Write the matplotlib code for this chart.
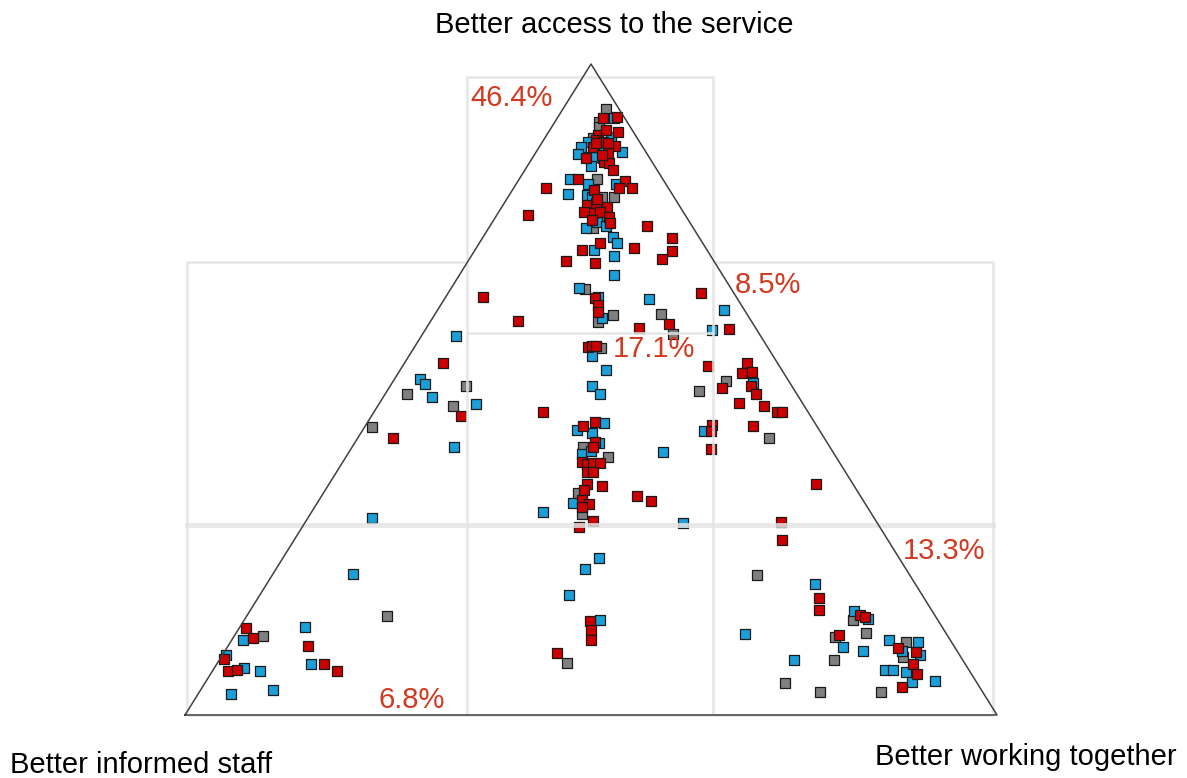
import matplotlib.pyplot as plt
import numpy as np

plt.rcParams['font.family'] = ['Liberation Sans', 'DejaVu Sans']

# Each respondent splits 100% between the three corners.
# access = "Better access to the service", together = "Better working together",
# staff ("Better informed staff") is whatever is left.
red_access = [91.7, 91.9, 89.6, 89.1, 89.9, 88.3, 88.0, 87.4, 87.2, 85.6, 85.6, 84.9, 84.8, 83.7, 86.3, 86.0, 87.9, 87.9,
              82.3, 82.0, 81.0, 81.0, 81.0, 80.6, 78.3, 78.6, 78.0, 77.1, 77.3, 76.5, 77.3, 75.6, 76.0, 79.3, 76.8,
              75.1, 72.5, 71.4, 71.7, 73.3, 71.3, 70.0, 69.4, 69.7,
              64.2, 64.1, 63.0, 61.9, 60.5, 60.1, 59.4, 64.8, 59.3,
              56.5, 56.7, 56.7, 53.6, 54.1, 52.5, 52.7, 50.5, 50.2, 49.3, 47.9, 47.5, 46.5, 46.5, 44.5, 43.6, 44.4,
              40.9, 35.5, 29.6, 26.9, 46.5, 45.0, 44.4, 41.9, 41.2, 38.9, 38.6, 38.7, 38.7, 37.3, 37.3, 35.5, 35.2,
              34.6, 33.0, 32.4, 32.0, 33.6, 32.9, 29.8, 28.9, 14.4, 13.1, 11.5, 9.5,
              54.1, 45.9, 42.5, 13.4, 11.8, 10.6, 8.6, 6.8, 6.9, 7.8, 6.8,
              18.0, 16.1, 15.4, 15.1, 12.3, 10.3, 9.7, 7.8, 6.3, 4.3]
red_together = [5.6, 7.2, 8.5, 6.3, 6.9, 6.5, 7.5, 9.3, 6.6, 8.7, 6.6, 9.1, 9.8, 10.8, 9.0, 8.4, 6.7, 8.1,
                7.3, 13.2, 12.9, 14.5, 4.0, 10.1, 10.3, 11.3, 13.0, 11.7, 12.5, 14.0, 10.5, 14.5, 12.1, 11.1, 3.8,
                19.3, 14.9, 13.2, 19.4, 23.3, 24.3, 23.7, 15.8, 12.1,
                4.6, 18.4, 19.4, 19.9, 10.8, 29.5, 26.2, 31.1, 37.4,
                21.4, 21.8, 22.3, 37.6, 42.2, 42.4, 43.5, 44.4, 41.0, 45.7, 44.3, 47.5, 49.7, 50.3, 42.7, 43.0, 47.8,
                44.3, 60.0, 58.6, 60.1, 20.9, 28.0, 26.8, 29.6, 29.6, 29.5, 30.2, 30.9, 31.8, 30.9, 31.6, 31.7, 33.8,
                31.8, 32.4, 33.6, 32.9, 38.9, 41.0, 35.3, 34.1, 42.7, 43.4, 44.2, 41.1,
                4.7, 11.0, 4.4, 0.8, 2.5, 9.8, 0.5, 1.9, 3.0, 13.2, 15.3,
                69.1, 70.0, 75.4, 76.2, 74.4, 82.6, 85.2, 85.8, 87.0, 86.1]

blue_access = [91.7, 88.8, 88.0, 86.9, 87.2, 86.2, 85.7, 86.5, 84.3, 82.3, 81.6, 81.6, 80.0, 79.9, 79.6,
               75.7, 74.8, 75.1, 73.4, 72.5, 71.4, 70.5, 67.6, 65.6, 64.2, 61.0, 63.9, 62.2, 59.1,
               55.1, 53.0, 50.5, 49.3, 51.0, 43.6, 44.9, 43.8, 43.3, 41.8, 40.1, 40.6, 37.6, 40.4, 32.6,
               31.2, 29.5, 24.1, 22.4, 18.4, 14.6,
               58.2, 51.6, 50.8, 48.8, 47.8, 41.2, 30.3, 21.7, 11.5, 13.5, 9.2, 7.2, 6.8, 7.8, 3.2, 3.8,
               20.1, 16.0, 14.7, 12.4, 10.4, 9.8, 11.5, 11.2, 9.8, 9.2, 8.4, 6.9, 6.9, 6.6, 5.1, 5.2]
blue_together = [7.0, 8.1, 5.6, 8.1, 5.2, 5.3, 7.7, 10.6, 7.8, 6.3, 12.3, 8.8, 7.2, 9.6, 10.3,
                 12.9, 12.0, 14.3, 16.0, 17.0, 14.7, 17.6, 19.0, 15.7, 18.8, 20.9, 25.2, 35.3, 35.4,
                 22.6, 25.3, 24.9, 26.4, 44.5, 42.1, 29.2, 26.4, 28.5, 30.1, 28.8, 29.7, 31.1, 38.7, 31.5,
                 28.5, 46.6, 38.9, 38.1, 38.1, 43.8,
                 4.3, 3.1, 4.2, 6.0, 11.9, 12.5, 7.9, 9.8, 1.4, 8.0, 0.4, 3.7, 5.8, 11.6, 4.1, 8.9,
                 67.5, 74.4, 76.8, 62.8, 75.8, 78.6, 80.9, 84.7, 83.4, 85.9, 70.8, 82.7, 83.7, 85.5, 87.0, 89.8]

grey_access = [93.1, 91.1, 90.3, 88.6, 85.7, 82.3, 79.6, 79.6, 76.3, 74.8, 65.4, 60.4, 61.4, 61.6, 58.5,
               56.4, 51.3, 49.8, 42.5, 41.2, 39.6, 34.1, 30.9, 8.0,
               50.5, 49.3, 47.5, 44.2, 15.2, 12.1,
               21.5, 14.6, 12.0, 12.6, 11.2, 8.9, 8.4, 4.9, 3.5, 3.5]
grey_together = [5.3, 5.4, 5.8, 5.9, 7.0, 9.6, 11.6, 13.0, 13.4, 12.8, 16.6, 20.7, 22.0, 27.8, 30.9,
                 23.0, 41.0, 38.4, 50.7, 28.4, 32.3, 31.4, 33.5, 43.0,
                 9.3, 2.7, 9.2, 0.9, 17.3, 3.6,
                 59.7, 75.0, 74.0, 77.6, 83.2, 84.0, 75.7, 71.4, 76.4, 84.0]

# share of respondents falling in each zone
zone_labels = ['46.4%', '8.5%', '17.1%', '13.3%', '6.8%']
zone_pos = [(35.1, 94.8), (67.7, 66.1), (52.7, 56.2), (88.4, 25.2), (23.8, 2.3)]


def to_xy(access, together):
    a = np.array(access)
    t = np.array(together)
    return t + a / 2.0, a


fig = plt.figure(figsize=(11.87, 7.78), dpi=100)
ax = fig.add_axes([185 / 1187, 63 / 778, 812 / 1187, 651 / 778])
ax.set_xlim(0, 100)
ax.set_ylim(0, 100)
ax.axis('off')

for acc, tog, col in [(grey_access, grey_together, '#808080'),
                      (blue_access, blue_together, '#1a9fd8'),
                      (red_access, red_together, '#cc0000')]:
    x, y = to_xy(acc, tog)
    ax.scatter(x, y, marker='s', s=44, c=col, edgecolors='#1a1a1a',
               linewidths=0.9, zorder=3)

# zone boxes
box = dict(color='#e4e4e4', lw=2.0, alpha=0.85, zorder=4, clip_on=False,
           solid_capstyle='butt')
ax.plot([34.7, 34.7, 65.0, 65.0], [0, 98.0, 98.0, 0], **box)
ax.plot([0.25, 0.25, 34.7], [0, 69.6, 69.6], **box)
ax.plot([65.0, 99.5, 99.5], [69.6, 69.6, 0], **box)
ax.plot([34.7, 65.0], [58.7, 58.7], **box)
ax.plot([0.25, 99.5], [29.2, 29.2], color='#e4e4e4', lw=3.5, alpha=0.85,
        zorder=4, clip_on=False)
ax.plot([0.25, 99.5], [0, 0], **box)

# triangle
ax.plot([0, 50, 100, 0], [0, 100, 0, 0], color='#404040', lw=1.1, zorder=5,
        clip_on=False)

for lab, (px, py) in zip(zone_labels, zone_pos):
    ax.text(px, py, lab, color='#d2391f', fontsize=21, ha='left',
            va='center', zorder=6)

fig.text(614 / 1187, 1 - 25 / 778, 'Better access to the service',
         fontsize=21, ha='center', va='center')
fig.text(10 / 1187, 1 - 765 / 778, 'Better informed staff',
         fontsize=21, ha='left', va='center')
fig.text(875 / 1187, 1 - 757 / 778, 'Better working together',
         fontsize=21, ha='left', va='center')

fig.savefig('out.png', dpi=100, facecolor='white')
